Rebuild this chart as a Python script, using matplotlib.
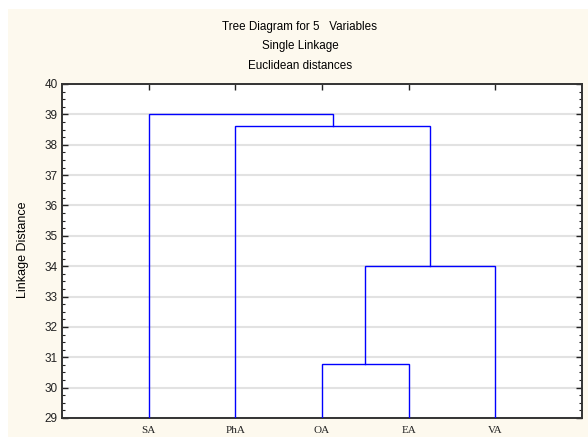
import matplotlib
matplotlib.use("Agg")
import matplotlib.pyplot as plt
from matplotlib.patches import Rectangle
from matplotlib.ticker import MultipleLocator

# data
labels = ["SA", "PhA", "OA", "EA", "VA"]
# merges: (left member, right member, linkage distance); ints = leaf index, "cN" = cluster N
merge_left = [2, "c0", 1, 0]
merge_right = [3, 4, "c1", "c2"]
merge_height = [30.78, 34.0, 38.63, 39.0]
y_min, y_max = 29, 40

fig = plt.figure(figsize=(5.88, 4.37), dpi=100, facecolor="white")
# cream backdrop like the original export
fig.patches.append(Rectangle((8 / 588, 0), 1 - 8 / 588, (437 - 9) / 437,
                             transform=fig.transFigure, facecolor="#fdf9ee",
                             edgecolor="none", zorder=-10))

ax = fig.add_axes([62 / 588, 19 / 437, 520 / 588, 334 / 437])
ax.set_zorder(5)
ax.set_facecolor("white")

# leaf x positions 1..n
pos = {i: (i + 1, y_min) for i in range(len(labels))}

for k, (a, b, h) in enumerate(zip(merge_left, merge_right, merge_height)):
    xa, ya = pos[a]
    xb, yb = pos[b]
    ax.plot([xa, xa, xb, xb], [ya, h, h, yb], color="#0000ff", linewidth=1.0,
            solid_joinstyle="miter", zorder=3)
    pos["c%d" % k] = ((xa + xb) / 2, h)

ax.set_xlim(0, len(labels) + 1)
ax.set_ylim(y_min, y_max)
ax.yaxis.set_major_locator(MultipleLocator(1))
ax.yaxis.set_minor_locator(MultipleLocator(0.25))
ax.set_xticks(range(1, len(labels) + 1))
ax.set_xticklabels(labels, family="Liberation Serif", fontsize=8)

ax.grid(axis="y", which="major", color="#e2e2e2", linewidth=1.5, zorder=1)
ax.set_axisbelow(True)

ax.tick_params(axis="y", which="major", direction="in", length=4, width=1,
               left=True, right=True, labelsize=8.5, pad=3, colors="#222222")
ax.tick_params(axis="y", which="minor", direction="in", length=2, width=0.8,
               left=True, right=True, colors="#222222")
ax.tick_params(axis="x", which="major", direction="in", length=4, width=1,
               top=True, bottom=False, labelsize=8, pad=6, colors="#222222")
for lab in ax.get_yticklabels():
    lab.set_family("Liberation Sans")

for s in ax.spines.values():
    s.set_color("#333333")
    s.set_linewidth(1.4)

fig.text(23 / 588, 1 - 250 / 437, "Linkage Distance", rotation=90,
         ha="center", va="center", fontsize=9, family="Liberation Sans")

fig.text(300 / 588, 1 - 27 / 437, "Tree Diagram for 5   Variables",
         ha="center", va="center", fontsize=8.4, family="Liberation Sans")
fig.text(300 / 588, 1 - 46 / 437, "Single Linkage",
         ha="center", va="center", fontsize=8.4, family="Liberation Sans")
fig.text(300 / 588, 1 - 66 / 437, "Euclidean distances",
         ha="center", va="center", fontsize=8.4, family="Liberation Sans")

fig.savefig("out.png", dpi=100, facecolor=fig.get_facecolor())
